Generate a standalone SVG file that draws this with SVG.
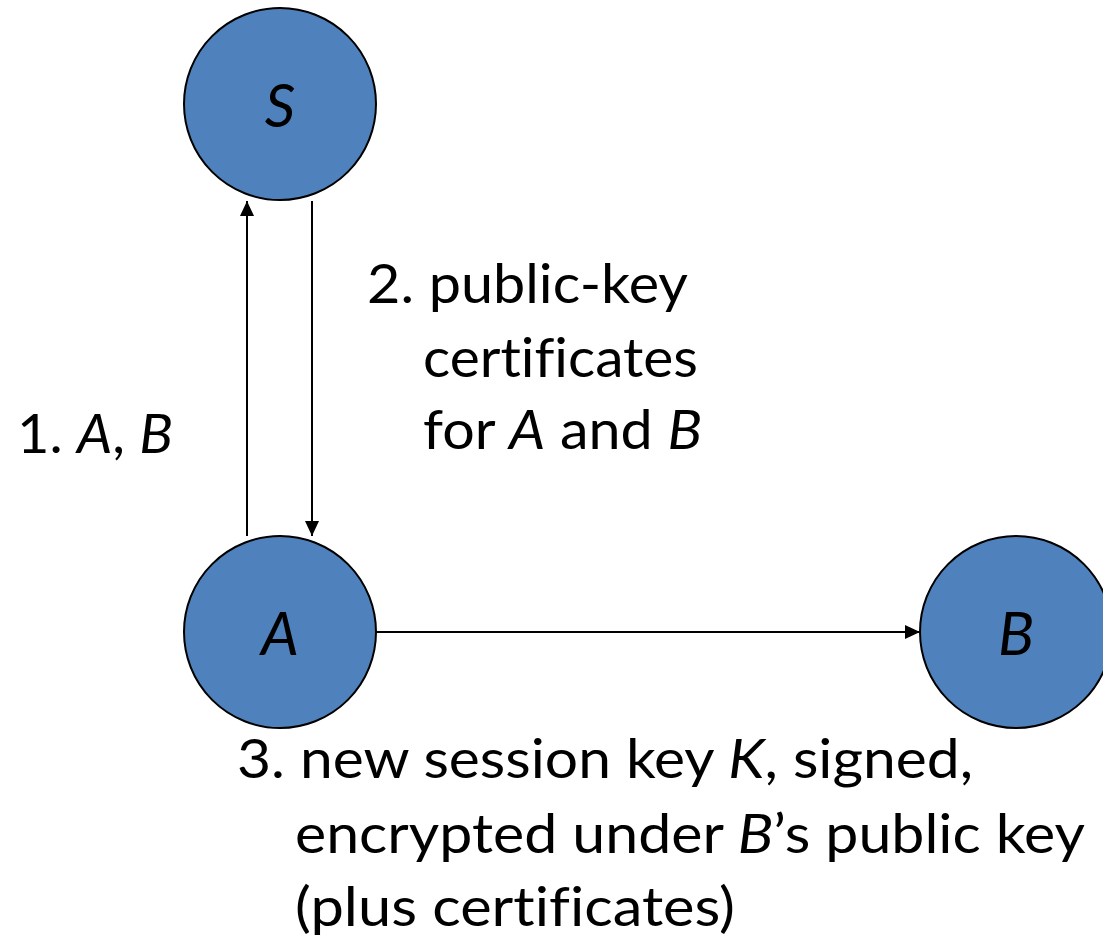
<svg xmlns="http://www.w3.org/2000/svg" width="1103" height="943" viewBox="0 0 1103 943">
  <style>
    .node circle { fill: #4F81BD; stroke: #000; stroke-width: 2; }
    .node text { font-family: Lato, "Liberation Sans", sans-serif; font-style: italic; font-size: 60px; text-anchor: middle; fill: #000; }
    .label { font-family: Lato, "Liberation Sans", sans-serif; font-size: 54px; fill: #000; font-variant-ligatures: none; }
    .label .it { font-style: italic; }
    .edge { stroke: #000; stroke-width: 2; fill: none; marker-end: url(#head); }
  </style>
  <defs>
    <marker id="head" viewBox="0 0 15 14" refX="15" refY="7" markerWidth="15" markerHeight="14" markerUnits="userSpaceOnUse" orient="auto">
      <path d="M0,0 L15,7 L0,14 Z" fill="#000"/>
    </marker>
  </defs>
  <rect width="1103" height="943" fill="#fff"/>

  <g id="connectors">
    <line class="edge" x1="247" y1="536" x2="247" y2="201"/>
    <line class="edge" x1="312" y1="201" x2="312" y2="536"/>
    <line class="edge" x1="376" y1="632" x2="920" y2="632"/>
  </g>

  <g id="node-S" class="node">
    <circle cx="280" cy="104" r="96"/>
    <text x="280" y="127">S</text>
  </g>
  <g id="node-A" class="node">
    <circle cx="280" cy="632" r="96"/>
    <text x="280" y="655">A</text>
  </g>
  <g id="node-B" class="node">
    <circle cx="1016" cy="632" r="96"/>
    <text x="1016" y="655">B</text>
  </g>

  <g id="labels">
    <text class="label" x="17" y="453" textLength="156" lengthAdjust="spacingAndGlyphs">1. <tspan class="it">A</tspan>, <tspan class="it">B</tspan></text>
    <text class="label" x="367" y="303" textLength="321" lengthAdjust="spacingAndGlyphs">2. public-key</text>
    <text class="label" x="423" y="377" textLength="275" lengthAdjust="spacingAndGlyphs">certificates</text>
    <text class="label" x="423" y="449" textLength="279" lengthAdjust="spacingAndGlyphs">for <tspan class="it">A</tspan> and <tspan class="it">B</tspan></text>
    <text class="label" x="237" y="778" textLength="736" lengthAdjust="spacingAndGlyphs">3. new session key <tspan class="it">K</tspan>, signed,</text>
    <text class="label" x="295" y="853" textLength="790" lengthAdjust="spacingAndGlyphs">encrypted under <tspan class="it">B</tspan>’s public key</text>
    <text class="label" x="295" y="926" textLength="440" lengthAdjust="spacingAndGlyphs">(plus certificates)</text>
  </g>
</svg>
